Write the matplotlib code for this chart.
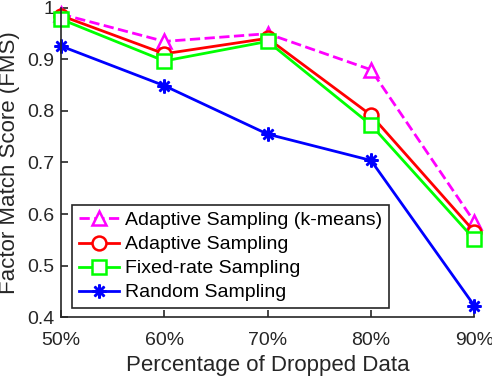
"""factor match score vs dropped data"""
import matplotlib
matplotlib.use("Agg")
import matplotlib.pyplot as plt

plt.rcParams['font.family'] = ['Liberation Sans', 'DejaVu Sans']

drop_pct = [50, 60, 70, 80, 90]
tick_labels = ['50%', '60%', '70%', '80%', '90%']

fms_kmeans = [0.988, 0.935, 0.950, 0.880, 0.585]
fms_adaptive = [0.985, 0.911, 0.941, 0.792, 0.566]
fms_fixed = [0.978, 0.897, 0.935, 0.773, 0.551]
fms_random = [0.926, 0.849, 0.755, 0.704, 0.422]

names = ['Adaptive Sampling (k-means)', 'Adaptive Sampling',
         'Fixed-rate Sampling', 'Random Sampling']

axis_col = '#262626'

fig = plt.figure(figsize=(4.92, 3.77), dpi=100)
ax = fig.add_axes([0.124, 0.159, 0.840, 0.820])

common = dict(lw=2, ms=10, mew=1.8, clip_on=False)
ax.plot(drop_pct, fms_kmeans, '--^', color='#FF00FF', mfc='white',
        label=names[0], **common)
ax.plot(drop_pct, fms_adaptive, '-o', color='#FF0000', mfc='white',
        label=names[1], **common)
ax.plot(drop_pct, fms_fixed, '-s', color='#00FF00', mfc='white',
        label=names[2], **common)
ax.plot(drop_pct, fms_random, '-', marker=(8, 2, 0), color='#0000FF',
        label=names[3], **common)

ax.set_xlim(50, 90)
ax.set_ylim(0.4, 1.0)
ax.set_xticks(drop_pct)
ax.set_xticklabels(tick_labels)
ax.set_yticks([0.4, 0.5, 0.6, 0.7, 0.8, 0.9, 1.0])
ax.set_yticklabels(['0.4', '0.5', '0.6', '0.7', '0.8', '0.9', '1'])

for s in ['top', 'right']:
    ax.spines[s].set_visible(False)
for s in ['left', 'bottom']:
    ax.spines[s].set_color(axis_col)
    ax.spines[s].set_linewidth(1.2)
ax.tick_params(direction='in', length=5, width=1.2, colors=axis_col,
               labelsize=14)
ax.tick_params(axis='x', pad=11)
ax.tick_params(axis='y', pad=5)

ax.set_xlabel('Percentage of Dropped Data', fontsize=16, color=axis_col,
              labelpad=4)
ax.set_ylabel('Factor Match Score (FMS)', fontsize=16, color=axis_col,
              labelpad=5)

leg = ax.legend(loc='lower left', bbox_to_anchor=(0.027, 0.03), fontsize=14,
                fancybox=False, framealpha=1, edgecolor=axis_col,
                handlelength=2.1, handletextpad=0.3, labelspacing=0.33,
                borderpad=0.33, borderaxespad=0)
leg.get_frame().set_linewidth(1.2)
for t in leg.get_texts():
    t.set_color('black')

fig.savefig('out.png', dpi=100)
